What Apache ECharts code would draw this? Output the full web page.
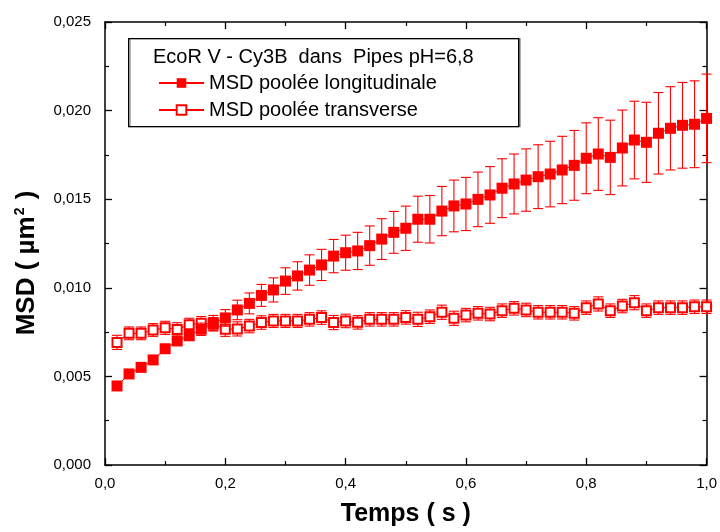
<!DOCTYPE html>
<html>
<head>
<meta charset="utf-8">
<script src="https://cdn.jsdelivr.net/npm/echarts@6/dist/echarts.min.js"></script>
<style>html,body{margin:0;padding:0;background:#fff;}#c{width:720px;height:532px;}</style>
</head>
<body>
<div id="c"></div>
<script>
// ---- data ----
var times = [0.02,0.04,0.06,0.08,0.10,0.12,0.14,0.16,0.18,0.20,
             0.22,0.24,0.26,0.28,0.30,0.32,0.34,0.36,0.38,0.40,
             0.42,0.44,0.46,0.48,0.50,0.52,0.54,0.56,0.58,0.60,
             0.62,0.64,0.66,0.68,0.70,0.72,0.74,0.76,0.78,0.80,
             0.82,0.84,0.86,0.88,0.90,0.92,0.94,0.96,0.98,1.00];
var msdLong = [0.00446,0.00514,0.00551,0.00593,0.00656,0.00700,0.00730,0.00766,0.00802,0.00830,
               0.00875,0.00912,0.00957,0.00988,0.01038,0.01067,0.01100,0.01129,0.01179,0.01198,
               0.01208,0.01238,0.01275,0.01313,0.01336,0.01387,0.01387,0.01433,0.01462,0.01473,
               0.01499,0.01524,0.01562,0.01586,0.01608,0.01627,0.01642,0.01665,0.01691,0.01731,
               0.01755,0.01736,0.01789,0.01834,0.01821,0.01872,0.01900,0.01917,0.01923,0.01956];
var errLong = [0.00012,0.00014,0.00016,0.00018,0.00020,0.00022,0.00028,0.00035,0.00042,0.00047,
               0.00055,0.00059,0.00062,0.00068,0.00075,0.00080,0.00086,0.00088,0.00094,0.00099,
               0.00105,0.00111,0.00115,0.00118,0.00125,0.00130,0.00134,0.00139,0.00146,0.00150,
               0.00154,0.00160,0.00166,0.00169,0.00176,0.00180,0.00185,0.00190,0.00197,0.00200,
               0.00205,0.00210,0.00214,0.00219,0.00226,0.00230,0.00235,0.00242,0.00245,0.00250];
var msdTrans = [0.00692,0.00743,0.00743,0.00762,0.00774,0.00765,0.00792,0.00800,0.00794,0.00766,
                0.00768,0.00784,0.00804,0.00813,0.00813,0.00813,0.00822,0.00832,0.00804,0.00813,
                0.00805,0.00822,0.00822,0.00822,0.00833,0.00822,0.00837,0.00862,0.00828,0.00846,
                0.00856,0.00852,0.00871,0.00884,0.00875,0.00862,0.00862,0.00862,0.00856,0.00888,
                0.00909,0.00871,0.00897,0.00916,0.00871,0.00888,0.00888,0.00888,0.00893,0.00893];
var errTrans = [0.00040,0.00036,0.00036,0.00036,0.00037,0.00038,0.00036,0.00038,0.00038,0.00040,
                0.00040,0.00038,0.00038,0.00037,0.00037,0.00037,0.00038,0.00038,0.00040,0.00038,
                0.00038,0.00038,0.00038,0.00038,0.00038,0.00040,0.00038,0.00040,0.00040,0.00038,
                0.00038,0.00038,0.00038,0.00038,0.00038,0.00038,0.00038,0.00038,0.00038,0.00038,
                0.00040,0.00038,0.00038,0.00040,0.00038,0.00038,0.00038,0.00038,0.00038,0.00038];
var nameLong = 'MSD poolée longitudinale';
var nameTrans = 'MSD poolée transverse';
var legendTitle = 'EcoR V - Cy3B  dans  Pipes pH=6,8';
var xTitle = 'Temps ( s )';

// ---- build ----
function pairs(ys){ return times.map(function(t,i){ return [t, ys[i]]; }); }
function triples(ys, es){ return times.map(function(t,i){ return [t, ys[i], es[i]]; }); }
var RED = '#ff0000';
var FONT = '"Liberation Sans", Arial, sans-serif';

function errRender(params, api){
  var x = api.value(0), y = api.value(1), e = api.value(2);
  var top = api.coord([x, y + e]);
  var bot = api.coord([x, y - e]);
  var hw = 5;
  var st = {stroke: RED, lineWidth: 1.1};
  return {
    type: 'group',
    children: [
      {type:'line', shape:{x1:top[0], y1:top[1], x2:bot[0], y2:bot[1]}, style:st},
      {type:'line', shape:{x1:top[0]-hw, y1:top[1], x2:top[0]+hw, y2:top[1]}, style:st},
      {type:'line', shape:{x1:bot[0]-hw, y1:bot[1], x2:bot[0]+hw, y2:bot[1]}, style:st}
    ]
  };
}

var axisLineStyle = {color:'#000', width:1.5};
function xAxisCfg(show){
  return {
    type:'value', min:0, max:1, interval:0.2,
    position: show ? 'bottom' : 'top',
    axisLine:{show:true, onZero:false, lineStyle:axisLineStyle},
    axisTick:{show:true, inside:true, length:7, lineStyle:{color:'#000', width:1.3}},
    minorTick:{show:true, splitNumber:2, length:4, lineStyle:{color:'#000', width:1.2}},
    splitLine:{show:false},
    axisLabel:{show:show, margin:11, color:'#000', fontSize:15, fontFamily:FONT,
      formatter:function(v){ return v.toFixed(1).replace('.', ','); }},
    name: show ? xTitle : '',
    nameLocation:'middle', nameGap:37,
    nameTextStyle:{fontSize:25, fontWeight:'bold', color:'#000', fontFamily:FONT}
  };
}
function yAxisCfg(show){
  return {
    type:'value', min:0, max:0.025, interval:0.005,
    position: show ? 'left' : 'right',
    axisLine:{show:true, onZero:false, lineStyle:axisLineStyle},
    axisTick:{show:true, inside:true, length:7, lineStyle:{color:'#000', width:1.3}},
    minorTick:{show:true, splitNumber:2, length:4, lineStyle:{color:'#000', width:1.2}},
    splitLine:{show:false},
    axisLabel:{show:show, margin:14, color:'#000', fontSize:15, fontFamily:FONT,
      formatter:function(v){ return v.toFixed(3).replace('.', ','); }}
  };
}

var chart = echarts.init(document.getElementById('c'), null, {renderer:'canvas'});
chart.setOption({
  backgroundColor:'#fff',
  animation:false,
  grid:{left:105, right:13, top:22, bottom:67, containLabel:false},
  xAxis:[xAxisCfg(true), xAxisCfg(false)],
  yAxis:[yAxisCfg(true), yAxisCfg(false)],
  legend:{
    data:[nameLong, nameTrans],
    orient:'vertical', left:153, top:68,
    itemWidth:45, itemHeight:12, itemGap:7,
    textStyle:{fontSize:20, color:'#000', fontFamily:FONT, lineHeight:20},
    selectedMode:false
  },
  graphic:[
    {type:'rect', left:128, top:38, z:0,
     shape:{width:390, height:88},
     style:{fill:'#fff', stroke:'#000', lineWidth:1.3, shadowColor:'rgba(0,0,0,0.35)', shadowOffsetX:1.5, shadowOffsetY:0, shadowBlur:0}},
    {type:'text', left:153, top:47, z:10,
     style:{text:legendTitle, fontSize:20, fill:'#000', fontFamily:FONT}},
    {type:'text', z:10, x:27, y:263, rotation:Math.PI/2,
     style:{
       text:'{a|MSD ( µm}{s|2}{a| )}',
       align:'center', verticalAlign:'middle',
       rich:{
         a:{fontSize:26, fontWeight:'bold', fill:'#000', fontFamily:FONT},
         s:{fontSize:14, fontWeight:'bold', fill:'#000', fontFamily:FONT, verticalAlign:'top', padding:[0,1,14,1]}
       }
     }}
  ],
  series:[
    {type:'custom', name:'errTrans', renderItem:errRender, data:triples(msdTrans, errTrans),
     encode:{x:0, y:1}, z:2, silent:true},
    {type:'line', name:nameTrans, data:pairs(msdTrans), symbol:'emptyRect', symbolSize:9,
     itemStyle:{color:RED, borderColor:RED, borderWidth:1.5},
     lineStyle:{color:RED, width:1}, z:3, clip:false},
    {type:'custom', name:'errLong', renderItem:errRender, data:triples(msdLong, errLong),
     encode:{x:0, y:1}, z:4, silent:true},
    {type:'line', name:nameLong, data:pairs(msdLong), symbol:'rect', symbolSize:11,
     itemStyle:{color:RED}, lineStyle:{color:RED, width:1}, z:5, clip:false}
  ]
});
</script>
</body>
</html>
